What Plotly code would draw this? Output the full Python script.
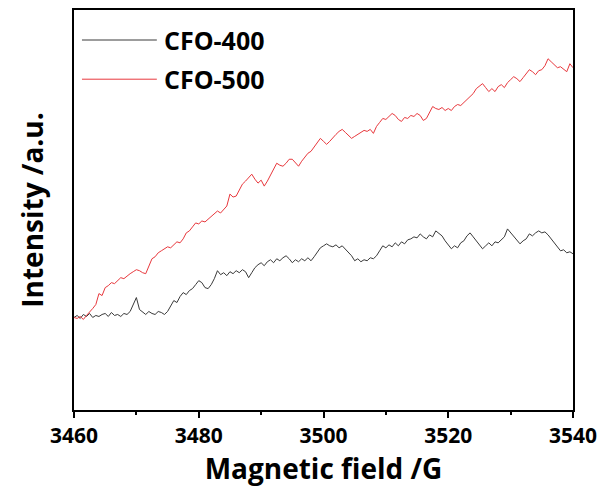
import numpy as np
import plotly.graph_objects as go

# Field axis (G), 0.5 G step
field_start = 3460
field_step = 0.5

cfo400 = [
    91, 93, 90, 94, 92, 95, 91, 93, 92, 94,
    95, 92, 96, 93, 94, 92, 95, 94, 97, 104,
    111, 99, 96, 94, 97, 95, 94, 97, 96, 94,
    97, 102, 108, 106, 112, 116, 114, 118, 120, 124,
    128, 126, 121, 120, 124, 130, 138, 134, 136, 133,
    137, 135, 138, 136, 139, 137, 131, 136, 141, 144,
    146, 143, 147, 149, 146, 150, 148, 151, 153, 150,
    146, 149, 147, 150, 148, 151, 148, 152, 156, 161,
    163, 165, 163, 162, 164, 161, 163, 160, 157, 153,
    148, 150, 147, 149, 148, 151, 150, 153, 158, 163,
    161, 164, 162, 166, 163, 167, 165, 169, 170, 172,
    171, 175, 172, 170, 174, 172, 178, 175, 173, 168,
    164, 160, 163, 161, 166, 168, 173, 176, 172, 168,
    165, 160, 163, 166, 163, 167, 166, 169, 172, 180,
    176, 172, 169, 165, 168, 170, 175, 173, 176, 178,
    176, 177, 174, 170, 166, 162, 158, 159, 156, 157,
    155,
]

cfo500 = [
    91, 90, 92, 89, 93, 96, 100, 104, 115, 113,
    121, 123, 126, 125, 128, 131, 130, 133, 135, 137,
    139, 138, 136, 135, 143, 150, 152, 156, 158, 160,
    162, 161, 164, 167, 166, 170, 176, 178, 182, 186,
    185, 188, 187, 190, 192, 195, 198, 196, 200, 203,
    215, 212, 213, 219, 225, 228, 232, 235, 230, 226,
    229, 223, 228, 234, 240, 246, 244, 243, 246, 250,
    250, 247, 243, 248, 252, 256, 258, 262, 266, 271,
    268, 265, 268, 272, 275, 278, 280, 277, 274, 271,
    273, 275, 277, 279, 278, 280, 276, 283, 287, 291,
    290, 293, 296, 294, 290, 288, 292, 291, 294, 293,
    296, 294, 289, 291, 297, 303, 301, 300, 302, 299,
    301, 299, 303, 305, 304, 307, 309, 312, 316, 321,
    324, 326, 322, 318, 321, 318, 323, 325, 322, 327,
    330, 333, 331, 328, 332, 336, 340, 338, 335, 339,
    340, 344, 351, 348, 345, 342, 343, 340, 338, 346,
    342,
]

series_names = ["CFO-400", "CFO-500"]
series_colors = ["#3a3a3a", "#e8383d"]
x_ticks = [3460, 3480, 3500, 3520, 3540]

field = field_start + field_step * np.arange(len(cfo400))

FONT = "Open Sans"
fig = go.Figure()
for name, vals, col in zip(series_names, [cfo400, cfo500], series_colors):
    fig.add_trace(go.Scatter(x=field, y=vals, mode="lines", name=name,
                             line=dict(color=col, width=1), showlegend=False))

# custom legend (long line samples)
leg_y = [0.925, 0.827]
for name, col, yy in zip(series_names, series_colors, leg_y):
    fig.add_shape(type="line", xref="paper", yref="paper", x0=0.016, x1=0.166,
                  y0=yy, y1=yy, line=dict(color=col, width=1))
    fig.add_annotation(xref="paper", yref="paper", x=0.176, y=yy, text=name,
                       showarrow=False, xanchor="left", yanchor="middle",
                       font=dict(family=FONT, size=25, color="black", weight="bold"))

fig.update_layout(
    width=605, height=490,
    margin=dict(l=74, r=32, t=8, b=80),
    plot_bgcolor="white", paper_bgcolor="white",
    font=dict(family=FONT, color="black"),
)
fig.update_xaxes(
    range=[3460, 3540], tickvals=x_ticks, ticktext=[str(v) for v in x_ticks],
    showgrid=False, zeroline=False, showline=True, linecolor="black", linewidth=2,
    mirror=True, ticks="outside", ticklen=6, tickwidth=2, tickcolor="black",
    minor=dict(tickvals=[3470, 3490, 3510, 3530], ticks="outside", ticklen=3,
               tickwidth=2, tickcolor="black"),
    tickfont=dict(family=FONT, size=21, weight="bold"),
    title=dict(text="Magnetic field /G", font=dict(family=FONT, size=28, weight="bold"),
               standoff=1),
)
fig.update_yaxes(
    range=[-2, 400], showticklabels=False, ticks="", showgrid=False, zeroline=False,
    showline=True, linecolor="black", linewidth=2, mirror=True,
    title=dict(text="Intensity /a.u.", font=dict(family=FONT, size=28, weight="bold"),
               standoff=20),
)

fig.write_html("out.html")
